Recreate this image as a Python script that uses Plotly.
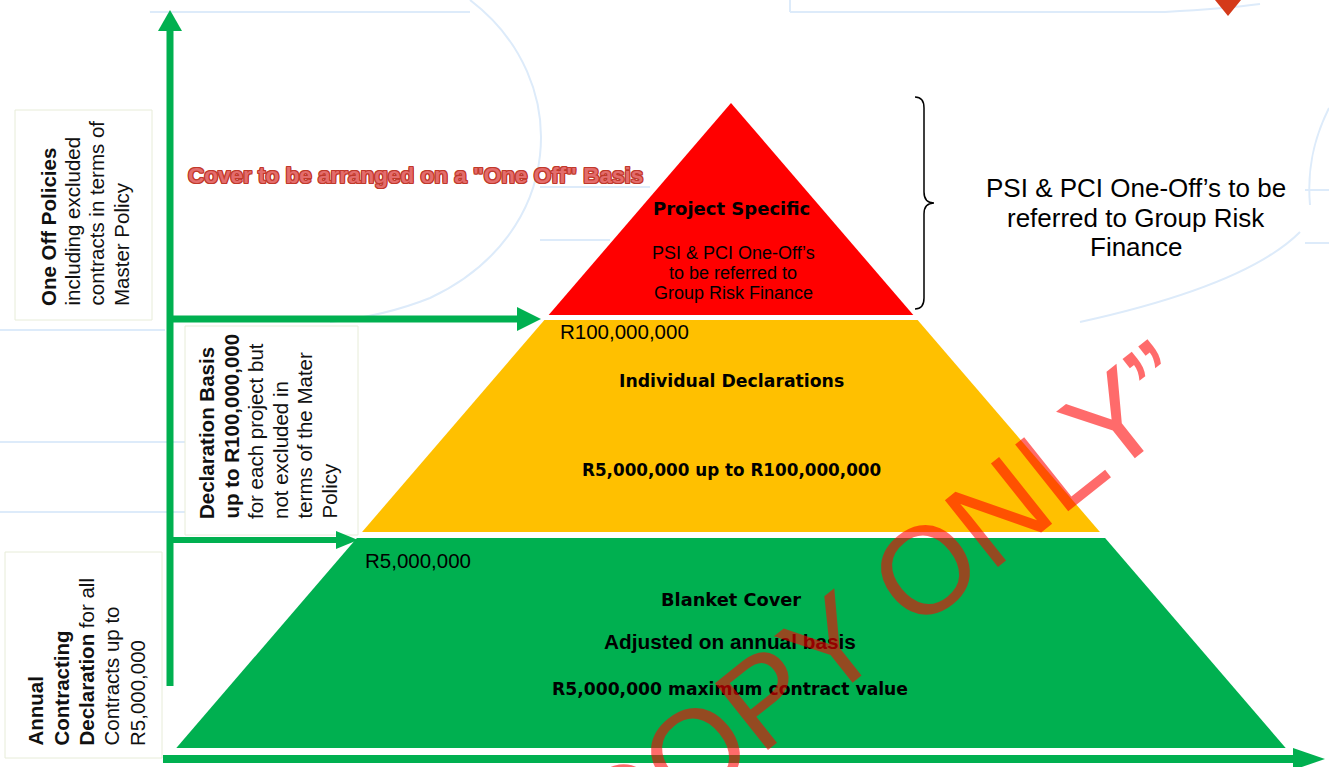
import plotly.graph_objects as go

# ---------------- data ----------------
tiers = ["Project Specific", "Individual Declarations", "Blanket Cover"]
tier_colors = ["#FF0000", "#FFC000", "#00B050"]
thresholds = ["R100,000,000", "R5,000,000"]
project_detail_lines = ["PSI & PCI One-Off’s", "to be referred to", "Group Risk Finance"]
declaration_range = "R5,000,000 up to R100,000,000"
blanket_note = "Adjusted on annual basis"
blanket_limit = "R5,000,000 maximum contract value"
side_label_lines = [
    ["<b>One Off Policies</b>", "including excluded", "contracts in terms of", "Master Policy"],
    ["<b>Declaration Basis</b>", "<b>up to R100,000,000</b>", "for each project but",
     "not excluded in", "terms of the Mater", "Policy"],
    ["<b>Annual</b>", "<b>Contracting</b>", "<b>Declaration</b> for all", "Contracts up to", "R5,000,000"],
]
one_off_banner = 'Cover to be arranged on a "One Off" Basis'
brace_note_lines = ["PSI & PCI One-Off’s to be", "referred to Group Risk", "Finance"]
watermark = "“COPY ONLY”"

# ---------------- geometry (pixel canvas) ----------------
W, H = 1329, 767
apex_x, apex_y = 731, 103
slope = 0.86
bands = [(103, 315), (320, 532), (538, 748)]

GREEN = "#00B050"
ARIAL = "Liberation Sans, Arial, sans-serif"
DEJAVU = "DejaVu Sans, sans-serif"

fig = go.Figure()


def half(y):
    return slope * (y - apex_y)


# pyramid tiers
for name, col, (yt, yb) in zip(tiers, tier_colors, bands):
    xs = [apex_x - half(yt), apex_x + half(yt), apex_x + half(yb), apex_x - half(yb), apex_x - half(yt)]
    ys = [yt, yt, yb, yb, yt]
    fig.add_trace(go.Scatter(x=xs, y=ys, fill="toself", fillcolor=col, mode="none",
                             name=name, hoverinfo="name", showlegend=False))

shapes = []
faint = dict(color="#DDEBFA", width=2)
# faint background logo
for p in [
    "M 470,0 C 575,80 565,235 430,298 Q 385,316 330,322",
    "M 1080,322 C 1180,300 1260,272 1300,232",
    "M 1310,205 C 1307,170 1313,140 1329,108",
    "M 1165,12 C 1200,10 1230,8 1260,4",
]:
    shapes.append(dict(type="path", path=p, line=faint, layer="below"))
for (x0, y0, x1, y1) in [(150, 12, 470, 12), (790, 12, 1165, 12), (790, 0, 790, 12),
                         (540, 187, 650, 187), (540, 240, 610, 240),
                         (1305, 190, W, 190), (1305, 243, W, 243),
                         (0, 330, 165, 330), (0, 442, 185, 442), (0, 512, 185, 512)]:
    shapes.append(dict(type="line", x0=x0, y0=y0, x1=x1, y1=y1, line=faint, layer="below"))

# label boxes
box_col = "#E7ECD8"
boxes = [(15, 110, 152, 320), (185, 326, 358, 535), (5, 552, 162, 758)]
for (x0, y0, x1, y1) in boxes:
    shapes.append(dict(type="rect", x0=x0, y0=y0, x1=x1, y1=y1,
                       line=dict(color=box_col, width=1), fillcolor="rgba(0,0,0,0)", layer="below"))


# green arrows
def arrow_h(x0, x1, y, w, head_len, head_half):
    return [
        dict(type="line", x0=x0, y0=y, x1=x1 - head_len, y1=y, line=dict(color=GREEN, width=w)),
        dict(type="path", path=f"M {x1-head_len},{y-head_half} L {x1},{y} L {x1-head_len},{y+head_half} Z",
             fillcolor=GREEN, line=dict(color=GREEN, width=0)),
    ]


shapes += [
    dict(type="line", x0=170, y0=686, x1=170, y1=30, line=dict(color=GREEN, width=7)),
    dict(type="path", path="M 158,31 L 170,10 L 182,31 Z", fillcolor=GREEN, line=dict(color=GREEN, width=0)),
]
shapes += arrow_h(167, 541, 319, 7, 24, 12)
shapes += arrow_h(167, 358, 540, 6, 22, 9)
shapes += arrow_h(163, 1325, 759, 8, 32, 11)

# curly brace
shapes.append(dict(type="path",
                   path="M 915,97 Q 924,97 924,108 L 924,192 Q 924,203 934,203 Q 924,203 924,214 L 924,298 Q 924,309 915,309",
                   line=dict(color="black", width=1.5)))

# small red marker top right
shapes.append(dict(type="path", path="M 1215,0 L 1241,0 L 1228,16 Z", fillcolor="#D43A1A",
                   line=dict(color="#D43A1A", width=0)))

ann = []
# side labels (rotated), one annotation per line for tight line spacing
side_line_x = [[48, 72, 96, 121], [206, 231, 255, 280, 304, 329], [35, 61, 86, 111, 137]]
side_bottom = [308, 521, 748]
for lines, xs, yb in zip(side_label_lines, side_line_x, side_bottom):
    for txt, x in zip(lines, xs):
        ann.append(dict(x=x, y=yb, text=txt, textangle=-90, showarrow=False,
                        xanchor="center", yanchor="bottom",
                        font=dict(family=ARIAL, size=20.5, color="#111111")))

# one-off banner
edge = "#C0392B"
ann.append(dict(x=415, y=175, text=f"<b>{one_off_banner}</b>", showarrow=False,
                font=dict(family=ARIAL, size=22.5, color="#E36C6C",
                          shadow=f"1px 0 0 {edge}, -1px 0 0 {edge}, 0 1px 0 {edge}, 0 -1px 0 {edge}, "
                                 f"1px 1px 0 {edge}, -1px -1px 0 {edge}, 1px -1px 0 {edge}, -1px 1px 0 {edge}")))

# tier labels
ann.append(dict(x=731, y=208, text=f"<b>{tiers[0]}</b>", showarrow=False,
                font=dict(family=DEJAVU, size=18, color="black")))
for txt, y in zip(project_detail_lines, [253, 273, 293]):
    ann.append(dict(x=733, y=y, text=txt, showarrow=False, font=dict(family=ARIAL, size=18, color="black")))
ann += [
    dict(x=558, y=331, text=thresholds[0], showarrow=False, xanchor="left",
         font=dict(family=ARIAL, size=20.5, color="black")),
    dict(x=731, y=381, text=f"<b>{tiers[1]}</b>", showarrow=False, font=dict(family=DEJAVU, size=17.3, color="black")),
    dict(x=731, y=470, text=f"<b>{declaration_range}</b>", showarrow=False,
         font=dict(family=DEJAVU, size=16.8, color="black")),
    dict(x=363, y=560, text=thresholds[1], showarrow=False, xanchor="left",
         font=dict(family=ARIAL, size=20.5, color="black")),
    dict(x=731, y=599, text=f"<b>{tiers[2]}</b>", showarrow=False, font=dict(family=DEJAVU, size=17.8, color="black")),
    dict(x=730, y=641, text=f"<b>{blanket_note}</b>", showarrow=False, font=dict(family=ARIAL, size=20.8, color="black")),
    dict(x=730, y=689, text=f"<b>{blanket_limit}</b>", showarrow=False, font=dict(family=DEJAVU, size=17.2, color="black")),
]

# brace note
for txt, y in zip(brace_note_lines, [188, 218, 247]):
    ann.append(dict(x=1136, y=y, text=txt, showarrow=False, font=dict(family=ARIAL, size=26, color="black")))

# watermark
ann.append(dict(x=866, y=617, text=watermark, textangle=-38.5, showarrow=False,
                font=dict(family=ARIAL, size=124, color="rgba(255,0,0,0.58)")))

fig.update_layout(
    width=W, height=H, margin=dict(l=0, r=0, t=0, b=0),
    paper_bgcolor="white", plot_bgcolor="white",
    xaxis=dict(range=[0, W], visible=False, fixedrange=True),
    yaxis=dict(range=[H, 0], visible=False, fixedrange=True),
    shapes=shapes, annotations=ann, showlegend=False,
)

fig.write_html("out.html", config={"displayModeBar": False},
               post_script="document.body.style.margin='0';document.body.style.overflow='hidden';")
